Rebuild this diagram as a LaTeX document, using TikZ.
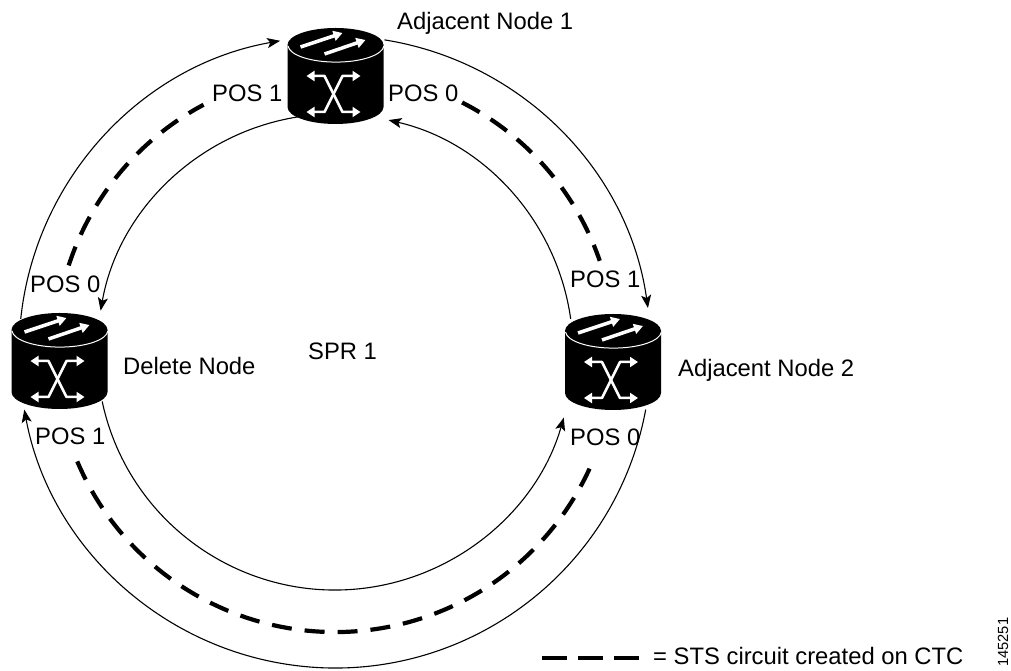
\documentclass[tikz,border=0pt]{standalone}
\usepackage{fontspec}
\setmainfont{Liberation Sans}
\usetikzlibrary{arrows.meta}
\tikzset{link/.style={
            line width=1.1pt,
            -{Stealth[length=13pt,width=10pt,inset=3pt]}
        },
        circuit/.style={
            line width=4.2pt,
            dash pattern=on 20pt off 13pt
        },
        lbl/.style={
            font=\fontsize{23.8pt}{28pt}\selectfont,
            inner sep=0pt,
            anchor=base west
        },
        iconarrow/.style={
            white,
            line width=3.5pt,
            -{Triangle[length=9pt,width=10pt]}
        },
        iconswitch/.style={
            white,
            line width=2.5pt,
            line join=round,
            {Triangle[length=8pt,width=10pt]}-{Triangle[length=8pt,width=10pt]}
        },
        router/.pic={
            \fill[black] (-48,0) -- (-48,-62) arc[start angle=180, end angle=360, x radius=48, y radius=17]
                -- (48,0) arc[start angle=0, end angle=180, x radius=48, y radius=17] -- cycle;
            \draw[white, line width=1pt] (-47.5,-1) arc[start angle=183, end angle=357, x radius=48, y radius=17];
            \draw[iconarrow] (-35,-2) -- (7,12);
            \draw[iconarrow] (-11,-9) -- (30,5);
            \draw[iconswitch] (-29,-31) -- (-11,-31) -- (7,-67) -- (25,-67);
            \draw[iconswitch] (-29,-67) -- (-11,-67) -- (7,-31) -- (25,-31);
        }
    }
\begin{document}
\begin{tikzpicture}[x=1pt, y=1pt]
        \useasboundingbox (0,0) rectangle (1011,671);
        \coordinate (ring) at (335,319);

        \draw[link] ([shift={(174:316)}]ring) arc[start angle=174, end angle=100, radius=316];
        \draw[link] ([shift={(81:316)}]ring) arc[start angle=81, end angle=8, radius=316];
        \draw[link] ([shift={(-10.5:316)}]ring) arc[start angle=-10.5, end angle=-169.5, radius=316];

        \draw[link] ([shift={(99:238)}]ring) arc[start angle=99, end angle=170, radius=238];
        \draw[link] ([shift={(8:238)}]ring) arc[start angle=8, end angle=77, radius=238];
        \draw[link] ([shift={(-168:238)}]ring) arc[start angle=-168, end angle=-16, radius=238];

        \draw[circuit] ([shift={(162:280)}]ring) arc[start angle=162, end angle=118, radius=280];
        \draw[circuit] ([shift={(63:280)}]ring) arc[start angle=63, end angle=19, radius=280];
        \draw[circuit] ([shift={(-157:280)}]ring) arc[start angle=-157, end angle=-23, radius=280];

        \pic (adjone) at (335.5,626) {router};
        \pic (delete) at (59.5,341) {router};
        \pic (adjtwo) at (613,340) {router};

        \node[lbl] (adjonetext) at (397,641) {Adjacent Node 1};
        \node[lbl] (adjonewest) at (212,569) {POS 1};
        \node[lbl] (adjoneeast) at (388,569) {POS 0};
        \node[lbl] (deletetext) at (123,296) {Delete Node};
        \node[lbl] (deletenorth) at (30,378) {POS 0};
        \node[lbl] (deletesouth) at (35,226) {POS 1};
        \node[lbl] (adjtwotext) at (678,294) {Adjacent Node 2};
        \node[lbl] (adjtwonorth) at (570,383) {POS 1};
        \node[lbl] (adjtwosouth) at (570,225) {POS 0};
        \node[lbl] (spr) at (308,311) {SPR 1};

        \coordinate (keystart) at (542,13);
        \coordinate (keyend) at (639,13);
        \draw[circuit, dash pattern=on 25pt off 11pt] (keystart) -- (keyend);
        \node[lbl] (key) at (653,6) {= STS circuit created on CTC};
        \node[font=\fontsize{14.7pt}{16pt}\selectfont, rotate=90, anchor=base west, inner sep=0pt] (figno) at (1008,4) {145251};
    \end{tikzpicture}
\end{document}
